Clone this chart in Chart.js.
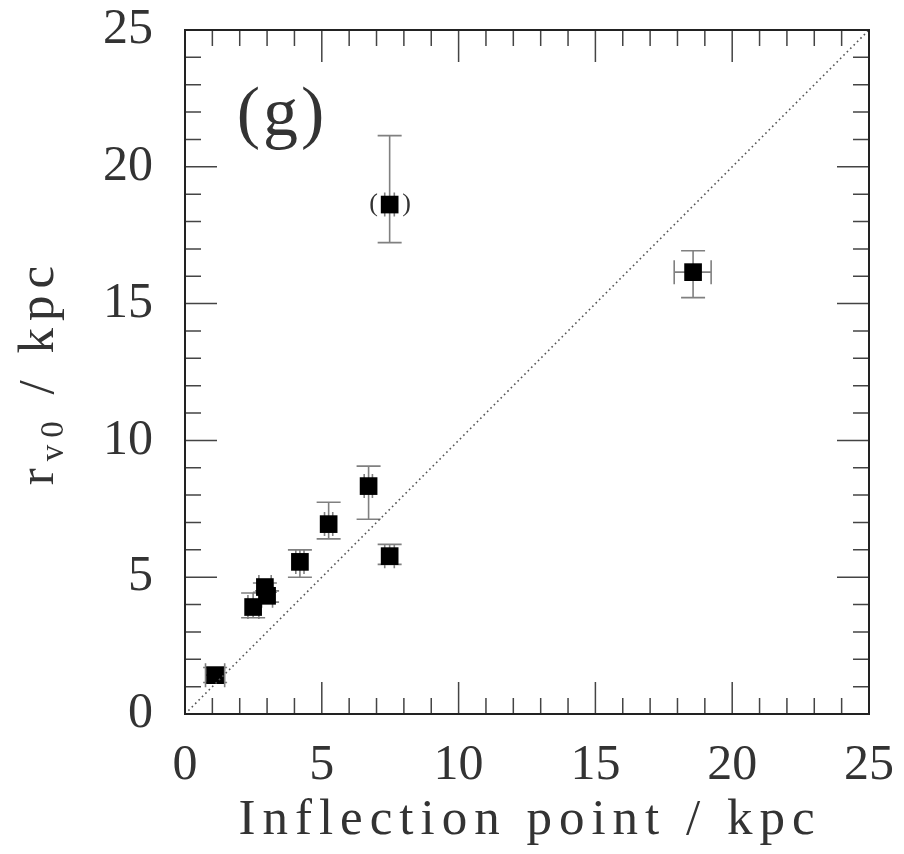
<!DOCTYPE html>
<html>
<head>
<meta charset="utf-8">
<script src="https://cdn.jsdelivr.net/npm/chart.js@4.4.1/dist/chart.umd.min.js"></script>
<style>
html,body{margin:0;padding:0;background:#fff;}
#wrap{width:904px;height:854px;position:relative;}
</style>
</head>
<body>
<div id="wrap"><canvas id="c"></canvas></div>
<script>
// ---- data ----
const inflection = [1.10, 2.49, 2.92, 3.00, 4.20, 5.25, 6.71, 7.48, 7.48, 18.57];
const rv0        = [1.42, 3.91, 4.64, 4.32, 5.56, 6.94, 8.33, 5.77, 18.62, 16.15];
const rv0Low     = [1.15, 3.52, 4.45, 4.09, 5.00, 6.40, 7.12, 5.47, 17.23, 15.22];
const rv0High    = [1.70, 4.42, 4.79, 4.50, 6.00, 7.74, 9.06, 6.20, 21.14, 16.93];
const inflLow    = [0.75, 2.30, 2.70, 2.80, 4.05, 5.10, 6.55, 7.30, 7.30, 17.88];
const inflHigh   = [1.45, 2.70, 3.15, 3.20, 4.35, 5.40, 6.85, 7.65, 7.65, 19.23];
const bracketed  = [false,false,false,false,false,false,false,false,true,false];
const diagX      = [0, 25];
const diagY      = [0, 25];
const tickValues = [0, 5, 10, 15, 20, 25];
const panelLabel = '(g)';
const xTitle     = 'Inflection point / kpc';

const FONT = '"Liberation Serif", "DejaVu Serif", serif';
const INK = '#333';

const errorBars = {
  id: 'errorBars',
  beforeDatasetsDraw(chart) {
    const {ctx, scales:{x, y}} = chart;
    ctx.save();
    ctx.strokeStyle = '#808080';
    ctx.lineWidth = 1.6;
    const cap = 12;
    for (let i = 0; i < inflection.length; i++) {
      const px = x.getPixelForValue(inflection[i]);
      const py = y.getPixelForValue(rv0[i]);
      const yl = y.getPixelForValue(rv0Low[i]);
      const yh = y.getPixelForValue(rv0High[i]);
      const xl = x.getPixelForValue(inflLow[i]);
      const xh = x.getPixelForValue(inflHigh[i]);
      ctx.beginPath();
      ctx.moveTo(px, yl); ctx.lineTo(px, yh);
      ctx.moveTo(px - cap, yl); ctx.lineTo(px + cap, yl);
      ctx.moveTo(px - cap, yh); ctx.lineTo(px + cap, yh);
      ctx.moveTo(xl, py); ctx.lineTo(xh, py);
      ctx.moveTo(xl, py - cap); ctx.lineTo(xl, py + cap);
      ctx.moveTo(xh, py - cap); ctx.lineTo(xh, py + cap);
      ctx.stroke();
    }
    ctx.restore();
  }
};

const frame = {
  id: 'frame',
  afterDraw(chart) {
    const {ctx, chartArea:a, scales:{x, y}} = chart;
    ctx.save();
    // inward ticks on all four sides
    ctx.strokeStyle = '#444';
    ctx.lineWidth = 1.5;
    ctx.beginPath();
    for (let v = 1; v < 25; v++) {
      const len = (v % 5 === 0) ? 32 : 16;
      const px = x.getPixelForValue(v);
      const py = y.getPixelForValue(v);
      ctx.moveTo(px, a.bottom); ctx.lineTo(px, a.bottom - len);
      ctx.moveTo(px, a.top); ctx.lineTo(px, a.top + len);
      ctx.moveTo(a.left, py); ctx.lineTo(a.left + len, py);
      ctx.moveTo(a.right, py); ctx.lineTo(a.right - len, py);
    }
    ctx.stroke();
    // box
    ctx.strokeStyle = '#222';
    ctx.lineWidth = 2;
    ctx.strokeRect(a.left, a.top, a.right - a.left, a.bottom - a.top);

    ctx.fillStyle = INK;
    // panel label
    ctx.font = '70px ' + FONT;
    ctx.textAlign = 'center';
    ctx.textBaseline = 'middle';
    if ('letterSpacing' in ctx) ctx.letterSpacing = '3px';
    ctx.fillText(panelLabel, 282, 117);
    if ('letterSpacing' in ctx) ctx.letterSpacing = '0px';

    // brackets around flagged points
    ctx.font = '26px ' + FONT;
    for (let i = 0; i < inflection.length; i++) {
      if (!bracketed[i]) continue;
      const px = x.getPixelForValue(inflection[i]);
      const py = y.getPixelForValue(rv0[i]);
      ctx.fillText('(', px - 16, py);
      ctx.fillText(')', px + 17, py);
    }

    // x title
    ctx.font = '51px ' + FONT;
    ctx.textAlign = 'center';
    ctx.textBaseline = 'alphabetic';
    if ('letterSpacing' in ctx) ctx.letterSpacing = '7px';
    ctx.fillText(xTitle, 530, 834);

    // y title with subscript
    if ('letterSpacing' in ctx) ctx.letterSpacing = '7px';
    ctx.translate(53, 372);
    ctx.rotate(-Math.PI / 2);
    ctx.textAlign = 'left';
    const big = '51px ' + FONT, small = '33px ' + FONT;
    const parts = [['r', big, 0], ['v0', small, 10], [' / kpc', big, 0]];
    let total = 0;
    parts.forEach(p => { ctx.font = p[1]; total += ctx.measureText(p[0]).width; });
    let cx = -total / 2;
    parts.forEach(p => { ctx.font = p[1]; ctx.fillText(p[0], cx, p[2]); cx += ctx.measureText(p[0]).width; });
    ctx.restore();
  }
};

new Chart(document.getElementById('c'), {
  type: 'scatter',
  data: {
    datasets: [
      {
        data: diagX.map((v, i) => ({x: v, y: diagY[i]})),
        showLine: true,
        pointRadius: 0,
        borderColor: '#555',
        borderWidth: 1.6,
        borderDash: [1.6, 3.2],
        fill: false
      },
      {
        data: inflection.map((v, i) => ({x: v, y: rv0[i]})),
        pointStyle: 'rect',
        pointRadius: 12.5,
        pointHoverRadius: 12.5,
        backgroundColor: '#000',
        borderColor: '#000',
        borderWidth: 0
      }
    ]
  },
  options: {
    responsive: true,
    maintainAspectRatio: false,
    animation: false,
    events: [],
    layout: {padding: {top: 30, right: 35, left: 0, bottom: 0}},
    plugins: {legend: {display: false}, tooltip: {enabled: false}},
    scales: {
      x: {
        type: 'linear', min: 0, max: 25,
        afterBuildTicks: s => { s.ticks = tickValues.map(v => ({value: v})); },
        afterFit: s => { s.height = 140; s.paddingLeft = 0; s.paddingRight = 0; },
        grid: {display: false, drawTicks: false},
        border: {display: false},
        ticks: {font: {family: FONT, size: 50}, color: INK, padding: 22, maxRotation: 0}
      },
      y: {
        type: 'linear', min: 0, max: 25,
        afterBuildTicks: s => { s.ticks = tickValues.map(v => ({value: v})); },
        afterFit: s => { s.width = 185; s.paddingTop = 0; s.paddingBottom = 0; },
        grid: {display: false, drawTicks: false},
        border: {display: false},
        ticks: {font: {family: FONT, size: 50}, color: INK, padding: 32}
      }
    }
  },
  plugins: [errorBars, frame]
});
</script>
</body>
</html>
